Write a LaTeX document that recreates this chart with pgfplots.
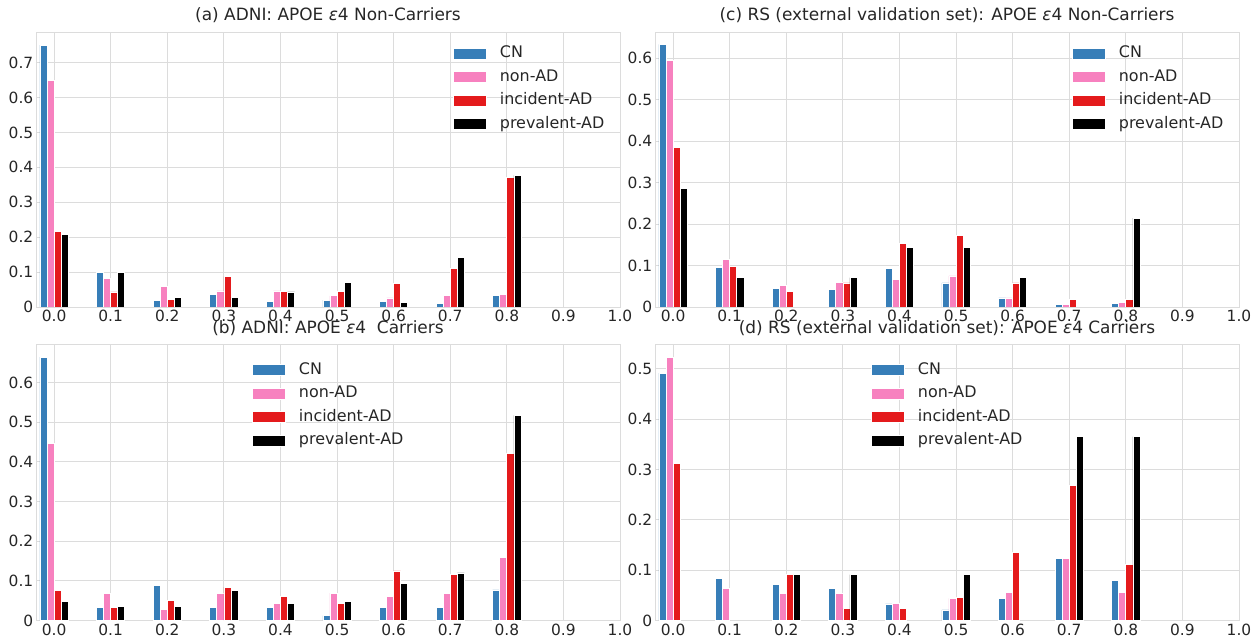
\documentclass[border=0pt]{standalone}
\usepackage{pgfplots}
\pgfplotsset{compat=1.18}
\usepackage{pgfplotstable}
\usepackage{fontspec}
\setmainfont{DejaVu Sans}
\definecolor{cn}{HTML}{377EB8}
\definecolor{nonad}{HTML}{F781BF}
\definecolor{incad}{HTML}{E41A1C}
\definecolor{gridc}{HTML}{DCDCDC}
\definecolor{txt}{HTML}{262626}

% x CN nonAD incAD prevAD
\pgfplotstableread{
x   cn     non    inc    prev
0.0 0.750  0.650  0.217  0.208
0.1 0.099  0.083  0.043  0.098
0.2 0.020  0.060  0.022  0.028
0.3 0.037  0.046  0.087  0.028
0.4 0.016  0.046  0.044  0.043
0.5 0.020  0.032  0.044  0.070
0.6 0.016  0.026  0.067  0.014
0.7 0.010  0.032  0.110  0.141
0.8 0.033  0.035  0.371  0.377
}\tabA
\pgfplotstableread{
x   cn     non    inc    prev
0.0 0.664  0.446  0.0755 0.047
0.1 0.034  0.069  0.034  0.035
0.2 0.089  0.027  0.051  0.035
0.3 0.034  0.069  0.084  0.075
0.4 0.034  0.043  0.060  0.042
0.5 0.012  0.069  0.043  0.048
0.6 0.034  0.060  0.125  0.093
0.7 0.034  0.069  0.117  0.120
0.8 0.077  0.160  0.422  0.517
}\tabB
\pgfplotstableread{
x   cn     non    inc    prev
0.0 0.633  0.595  0.385  0.286
0.1 0.095  0.115  0.097  0.071
0.2 0.044  0.053  0.038  nan
0.3 0.043  0.059  0.058  0.071
0.4 0.094  0.067  0.154  0.144
0.5 0.058  0.075  0.173  0.144
0.6 0.022  0.022  0.058  0.071
0.7 0.007  0.007  0.019  nan
0.8 0.009  0.010  0.019  0.214
}\tabC
\pgfplotstableread{
x   cn     non    inc    prev
0.0 0.491  0.523  0.312  nan
0.1 0.083  0.063  nan    nan
0.2 0.071  0.054  0.091  0.091
0.3 0.063  0.054  0.024  0.091
0.4 0.033  0.034  0.024  nan
0.5 0.021  0.044  0.046  0.092
0.6 0.044  0.056  0.135  nan
0.7 0.123  0.123  0.269  0.365
0.8 0.079  0.056  0.112  0.365
}\tabD

\pgfplotsset{
  panel/.style={
    scale only axis, width=584bp,
    xmin=-0.032, xmax=1.0, ymin=0,
    xtick={0,0.1,0.2,0.3,0.4,0.5,0.6,0.7,0.8,0.9,1.0},
    xticklabels={0.0,0.1,0.2,0.3,0.4,0.5,0.6,0.7,0.8,0.9,1.0},
    ytick distance=0.1,
    grid=major,
    major grid style={draw=gridc, line width=0.8bp},
    axis line style={draw=gridc, line width=0.8bp},
    major tick length=0pt, tick style={draw=none},
    /pgf/number format/assume math mode=true,
    ticklabel style={font=\fontsize{15.5}{15.5}\selectfont, text=txt},
    xticklabel style={inner sep=0pt, yshift=-3bp},
    yticklabel style={inner sep=0pt, xshift=-2.5bp},
    title style={font=\fontsize{17}{17}\selectfont, text=txt, inner sep=0pt, yshift=3.5bp},
    ybar, bar width=0.0125,
    legend image code/.code={\draw[#1] (0bp,-5.5bp) rectangle (33bp,5.5bp);},
    legend style={draw=none, fill=none, inner sep=0pt, row sep=8bp, column sep=13bp,
      font=\fontsize{16}{16}\selectfont, text=txt,
      nodes={inner sep=0pt, text height=12bp, text depth=3.5bp, anchor=west}},
    legend cell align=left,
  },
  bcn/.style={fill=cn, draw=white, line width=0.7bp, bar shift=-0.01875},
  bnon/.style={fill=nonad, draw=white, line width=0.7bp, bar shift=-0.00625},
  binc/.style={fill=incad, draw=white, line width=0.7bp, bar shift=0.00625},
  bprev/.style={fill=black, draw=white, line width=0.7bp, bar shift=0.01875},
}

\begin{document}
\begin{tikzpicture}
\useasboundingbox (0,0) rectangle (1254bp,636bp);

% (a)
\begin{axis}[panel, at={(36bp,604bp)}, anchor=north west, height=275bp,
  ymax=0.7875,
  title={(a) ADNI: APOE \textit{ε}4 Non-Carriers},
  legend style={at={(0.714,0.95)}, anchor=north west}]
\addplot[bcn] table[x=x,y=cn]{\tabA};
\addplot[bnon] table[x=x,y=non]{\tabA};
\addplot[binc] table[x=x,y=inc]{\tabA};
\addplot[bprev] table[x=x,y=prev]{\tabA};
\legend{CN,non-AD,incident-AD,prevalent-AD}
\end{axis}

% (c)
\begin{axis}[panel, at={(655bp,604bp)}, anchor=north west, height=275bp,
  ymax=0.663,
  title={(c) RS (external validation set): APOE \textit{ε}4 Non-Carriers},
  legend style={at={(0.714,0.95)}, anchor=north west}]
\addplot[bcn] table[x=x,y=cn]{\tabC};
\addplot[bnon] table[x=x,y=non]{\tabC};
\addplot[binc] table[x=x,y=inc]{\tabC};
\addplot[bprev] table[x=x,y=prev]{\tabC};
\legend{CN,non-AD,incident-AD,prevalent-AD}
\end{axis}

% (b)
\begin{axis}[panel, at={(36bp,292bp)}, anchor=north west, height=276.5bp,
  ymax=0.697,
  title={(b) ADNI: APOE \textit{ε}4\ \ Carriers},
  title style={yshift=-1.5bp},
  legend style={at={(0.37,0.935)}, anchor=north west}]
\addplot[bcn] table[x=x,y=cn]{\tabB};
\addplot[bnon] table[x=x,y=non]{\tabB};
\addplot[binc] table[x=x,y=inc]{\tabB};
\addplot[bprev] table[x=x,y=prev]{\tabB};
\legend{CN,non-AD,incident-AD,prevalent-AD}
\end{axis}

% (d)
\begin{axis}[panel, at={(655bp,292bp)}, anchor=north west, height=276.5bp,
  ymax=0.549,
  title={(d) RS (external validation set): APOE \textit{ε}4 Carriers},
  title style={yshift=-1.5bp},
  legend style={at={(0.37,0.935)}, anchor=north west}]
\addplot[bcn] table[x=x,y=cn]{\tabD};
\addplot[bnon] table[x=x,y=non]{\tabD};
\addplot[binc] table[x=x,y=inc]{\tabD};
\addplot[bprev] table[x=x,y=prev]{\tabD};
\legend{CN,non-AD,incident-AD,prevalent-AD}
\end{axis}
\end{tikzpicture}
\end{document}
